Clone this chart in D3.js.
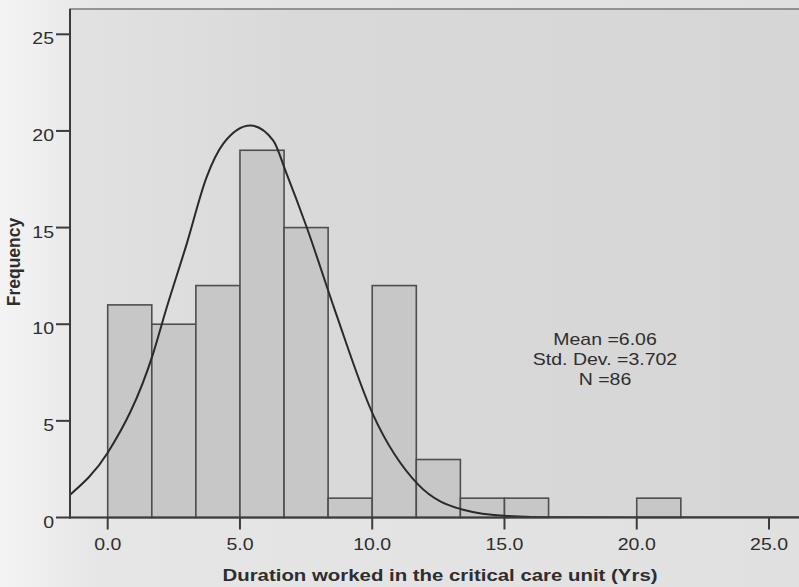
<!DOCTYPE html>
<html>
<head>
<meta charset="utf-8">
<script src="https://cdn.jsdelivr.net/npm/d3@7"></script>
<style>
  html, body { margin:0; padding:0; background:#e4e4e4; }
  svg { display:block; }
  text { font-family: "Liberation Sans", Arial, sans-serif; fill:#2e2e2e; }
</style>
</head>
<body>
<svg id="chart" width="799" height="587"></svg>
<script>
// histogram bins (width 5/3 yrs) and counts
const binEdges = [0, 1.667, 3.333, 5, 6.667, 8.333, 10, 11.667, 13.333, 15, 16.667, 18.333, 20, 21.667];
const counts   = [11, 10, 12, 19, 15, 1, 12, 3, 1, 1, 0, 0, 1];

// normal curve as drawn
const curveX = [-1.43, 0, 1.72, 2.2, 2.99, 3.74, 4.37, 5.4, 6.26, 6.74, 7.52, 8.59, 10.04, 11.74, 13.44, 15.09, 17, 20, 27];
const curveY = [1.17, 3.35, 8.49, 10.72, 14.17, 17.61, 19.34, 20.28, 19.5, 17.87, 15.03, 10.72, 5.3, 1.7, 0.4, 0.08, 0.01, 0, 0];

const xTicks = [0, 5, 10, 15, 20, 25];
const yTicks = [0, 5, 10, 15, 20, 25];
const stats  = ["Mean =6.06", "Std. Dev. =3.702", "N =86"];

const P = { left:70, top:9, right:805, bottom:517.5 };
const SX = 1.22; // text in the source is drawn wide

const svg = d3.select('#chart');

const x = d3.scaleLinear().domain([0, 25]).range([107.7, 769]);
const y = d3.scaleLinear().domain([0, 25]).range([517.5, 34.3]);

// background
const defs = svg.append('defs');
const bg = defs.append('linearGradient').attr('id','bg').attr('x1',0).attr('x2',1).attr('y1',0).attr('y2',0);
bg.append('stop').attr('offset','0%').attr('stop-color','#f4f4f4');
bg.append('stop').attr('offset','12%').attr('stop-color','#e6e6e6');
bg.append('stop').attr('offset','100%').attr('stop-color','#e0e0e0');
const pg = defs.append('linearGradient').attr('id','pg').attr('x1',0).attr('x2',1).attr('y1',0).attr('y2',0);
pg.append('stop').attr('offset','0%').attr('stop-color','#e2e2e2');
pg.append('stop').attr('offset','30%').attr('stop-color','#d9d9d9');
pg.append('stop').attr('offset','100%').attr('stop-color','#d6d6d6');
defs.append('clipPath').attr('id','clip')
  .append('rect').attr('x',P.left).attr('y',P.top).attr('width',P.right-P.left).attr('height',P.bottom-P.top);

svg.append('rect').attr('width',799).attr('height',587).attr('fill','url(#bg)');
svg.append('rect')
  .attr('x',P.left).attr('y',P.top)
  .attr('width',P.right-P.left).attr('height',P.bottom-P.top)
  .attr('fill','url(#pg)')
  .attr('stroke','#7a7a7a').attr('stroke-width',1.5);

// bars
const bins = counts.map((c,i) => ({ x0: binEdges[i], x1: binEdges[i+1], n: c })).filter(d => d.n > 0);
svg.append('g')
  .selectAll('rect')
  .data(bins)
  .join('rect')
    .attr('x', d => x(d.x0))
    .attr('y', d => y(d.n))
    .attr('width', d => x(d.x1) - x(d.x0))
    .attr('height', d => y(0) - y(d.n))
    .attr('fill','#c7c7c7')
    .attr('stroke','#4e4e4e')
    .attr('stroke-width',1.6);

// curve
const pts = curveX.map((v,i) => [v, curveY[i]]);
svg.append('path')
  .datum(pts)
  .attr('clip-path','url(#clip)')
  .attr('fill','none')
  .attr('stroke','#2a2a2a')
  .attr('stroke-width',2)
  .attr('d', d3.line().x(d => x(d[0])).y(d => y(d[1])).curve(d3.curveMonotoneX));

// axes lines
svg.append('line').attr('x1',P.left).attr('x2',P.left).attr('y1',P.top).attr('y2',P.bottom+1)
  .attr('stroke','#3c3c3c').attr('stroke-width',2);
svg.append('line').attr('x1',P.left-1).attr('x2',P.right).attr('y1',P.bottom).attr('y2',P.bottom)
  .attr('stroke','#3c3c3c').attr('stroke-width',2);

// y ticks
const yg = svg.append('g').selectAll('g').data(yTicks).join('g');
yg.append('line')
  .attr('x1',P.left-14).attr('x2',P.left)
  .attr('y1',d => y(d)).attr('y2',d => y(d))
  .attr('stroke','#3c3c3c').attr('stroke-width',2);
yg.append('text')
  .attr('transform', d => `translate(${P.left-16},${y(d)+10}) scale(${SX},1)`)
  .attr('text-anchor','end')
  .style('font-size','16px')
  .text(d => d);

// x ticks
const xg = svg.append('g').selectAll('g').data(xTicks).join('g');
xg.append('line')
  .attr('x1',d => x(d)).attr('x2',d => x(d))
  .attr('y1',P.bottom).attr('y2',P.bottom+12)
  .attr('stroke','#3c3c3c').attr('stroke-width',2);
xg.append('text')
  .attr('transform', d => `translate(${x(d)},550) scale(${SX},1)`)
  .attr('text-anchor','middle')
  .style('font-size','16px')
  .text(d => d.toFixed(1));

// axis titles
svg.append('text')
  .attr('transform', `translate(440,581) scale(1.2,1)`)
  .attr('text-anchor','middle')
  .style('font-size','17px').style('font-weight','bold')
  .text('Duration worked in the critical care unit (Yrs)');

svg.append('text')
  .attr('transform', 'translate(19.5,262) rotate(-90)')
  .attr('text-anchor','middle')
  .style('font-size','17.5px').style('font-weight','bold')
  .text('Frequency');

// stats box
svg.append('g').selectAll('text')
  .data(stats)
  .join('text')
    .attr('transform', (d,i) => `translate(605,${345 + i*20}) scale(${SX},1)`)
    .attr('text-anchor','middle')
    .style('font-size','16px')
    .text(d => d);
</script>
</body>
</html>
